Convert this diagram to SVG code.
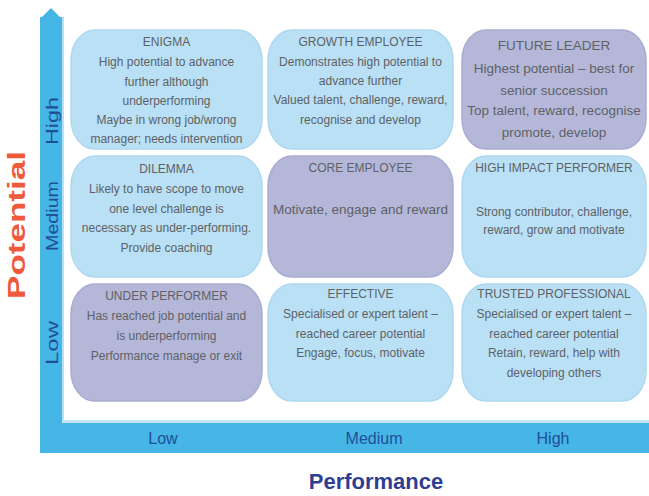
<svg xmlns="http://www.w3.org/2000/svg" width="649" height="496" viewBox="0 0 649 496">
<style>
.box-blue{fill:#b9e0f5;stroke:#aed8ef;stroke-width:1.5}
.box-purple{fill:#b5b7d9;stroke:#a9acd2;stroke-width:1.5}
.t{font-family:"Liberation Sans",Arial,sans-serif;font-size:12px;fill:#5e6266;text-anchor:middle}
.big{font-size:13.5px}
.axis{font-family:"Liberation Sans",Arial,sans-serif;font-size:16px;fill:#1f4f98;text-anchor:middle}
.bar{fill:#46b6e6}
</style>
<rect width="649" height="496" fill="#ffffff"/>
<g id="axes">
<rect class="bar" x="40" y="17" width="22" height="436"/>
<polygon class="bar" points="40,19 51,8 62,19"/>
<rect class="bar" x="40" y="423" width="609" height="30"/>
<rect x="62" y="17" width="2" height="406" fill="#b6e1f5"/>
<rect x="62" y="420" width="587" height="3" fill="#c3e6f6"/>
<text class="axis" transform="translate(58,121) rotate(-90)" textLength="48" lengthAdjust="spacingAndGlyphs">High</text>
<text class="axis" transform="translate(58,216) rotate(-90)" textLength="70" lengthAdjust="spacingAndGlyphs">Medium</text>
<text class="axis" transform="translate(58,343) rotate(-90)" textLength="44" lengthAdjust="spacingAndGlyphs">Low</text>
<text class="axis" x="163" y="444">Low</text>
<text class="axis" x="374" y="444">Medium</text>
<text class="axis" x="553" y="444">High</text>
<text transform="translate(25,225) rotate(-90)" font-family="Liberation Sans,Arial,sans-serif" font-size="24" font-weight="bold" fill="#ef5a3c" text-anchor="middle" textLength="148" lengthAdjust="spacingAndGlyphs">Potential</text>
<text x="376" y="489" font-family="Liberation Sans,Arial,sans-serif" font-size="22" font-weight="bold" fill="#2e3f93" text-anchor="middle">Performance</text>
</g>
<g id="enigma">
<rect class="box-blue" x="71" y="30" width="191" height="119" rx="24" ry="30"/>
<text class="t" x="166.5" y="46">ENIGMA</text>
<text class="t" x="166.5" y="66">High potential to advance</text>
<text class="t" x="166.5" y="86">further although</text>
<text class="t" x="166.5" y="105">underperforming</text>
<text class="t" x="166.5" y="124">Maybe in wrong job/wrong</text>
<text class="t" x="166.5" y="143">manager; needs intervention</text>
</g>
<g id="growth-employee">
<rect class="box-blue" x="268" y="30" width="185" height="119" rx="24" ry="30"/>
<text class="t" x="360.5" y="46">GROWTH EMPLOYEE</text>
<text class="t" x="360.5" y="66">Demonstrates high potential to</text>
<text class="t" x="360.5" y="85">advance further</text>
<text class="t" x="360.5" y="104">Valued talent, challenge, reward,</text>
<text class="t" x="360.5" y="124">recognise and develop</text>
</g>
<g id="future-leader">
<rect class="box-purple" x="462" y="30" width="184" height="119" rx="24" ry="30"/>
<text class="t big" x="554" y="50">FUTURE LEADER</text>
<text class="t big" x="554" y="73">Highest potential – best for</text>
<text class="t big" x="554" y="95">senior succession</text>
<text class="t big" x="554" y="115">Top talent, reward, recognise</text>
<text class="t big" x="554" y="137">promote, develop</text>
</g>
<g id="dilemma">
<rect class="box-blue" x="71" y="156" width="191" height="121" rx="24" ry="30"/>
<text class="t" x="166.5" y="173">DILEMMA</text>
<text class="t" x="166.5" y="193">Likely to have scope to move</text>
<text class="t" x="166.5" y="213">one level challenge is</text>
<text class="t" x="166.5" y="232">necessary as under-performing.</text>
<text class="t" x="166.5" y="252">Provide coaching</text>
</g>
<g id="core-employee">
<rect class="box-purple" x="268" y="156" width="185" height="121" rx="24" ry="30"/>
<text class="t" x="360.5" y="172">CORE EMPLOYEE</text>
<text class="t big" x="360.5" y="214">Motivate, engage and reward</text>
</g>
<g id="high-impact-performer">
<rect class="box-blue" x="462" y="156" width="184" height="121" rx="24" ry="30"/>
<text class="t" x="554" y="172">HIGH IMPACT PERFORMER</text>
<text class="t" x="554" y="216">Strong contributor, challenge,</text>
<text class="t" x="554" y="234">reward, grow and motivate</text>
</g>
<g id="under-performer">
<rect class="box-purple" x="71" y="284" width="191" height="117" rx="24" ry="30"/>
<text class="t" x="166.5" y="300">UNDER PERFORMER</text>
<text class="t" x="166.5" y="320">Has reached job potential and</text>
<text class="t" x="166.5" y="340">is underperforming</text>
<text class="t" x="166.5" y="360">Performance manage or exit</text>
</g>
<g id="effective">
<rect class="box-blue" x="268" y="284" width="185" height="117" rx="24" ry="30"/>
<text class="t" x="360.5" y="298">EFFECTIVE</text>
<text class="t" x="360.5" y="318">Specialised or expert talent –</text>
<text class="t" x="360.5" y="338">reached career potential</text>
<text class="t" x="360.5" y="357">Engage, focus, motivate</text>
</g>
<g id="trusted-professional">
<rect class="box-blue" x="462" y="284" width="184" height="117" rx="24" ry="30"/>
<text class="t" x="554" y="298">TRUSTED PROFESSIONAL</text>
<text class="t" x="554" y="318">Specialised or expert talent –</text>
<text class="t" x="554" y="338">reached career potential</text>
<text class="t" x="554" y="357">Retain, reward, help with</text>
<text class="t" x="554" y="377">developing others</text>
</g>
<g id="connectors"></g>
</svg>
